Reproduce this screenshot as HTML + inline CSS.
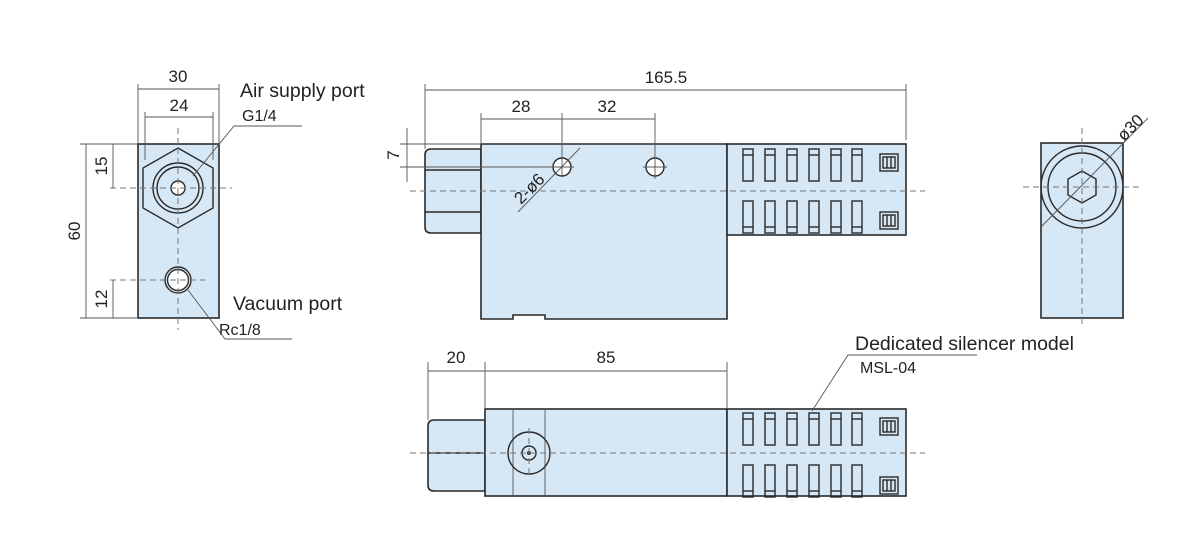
<!DOCTYPE html>
<html><head><meta charset="utf-8"><style>
html,body{margin:0;padding:0;background:#fff;}
svg{display:block;}
text{font-family:"Liberation Sans",Arial,sans-serif;fill:#222;}
.b{fill:#d6e7f5;stroke:#2a2a2a;stroke-width:1.6;}
.w{fill:#fff;stroke:#2a2a2a;stroke-width:1.4;}
.n{fill:none;stroke:#2a2a2a;stroke-width:1.4;}
.d{stroke:#555;stroke-width:0.9;fill:none;}
.c{stroke:#777;stroke-width:1;stroke-dasharray:6 4;fill:none;}
</style></head><body>
<svg width="1200" height="550" viewBox="0 0 1200 550" xmlns="http://www.w3.org/2000/svg">
<defs>
<g id="slotT"><rect x="-5" y="0" width="10" height="32" class="n" fill="none"/><line x1="-5" y1="6" x2="5" y2="6" class="n"/></g>
<g id="slotB"><rect x="-5" y="0" width="10" height="32" class="n" fill="none"/><line x1="-5" y1="26" x2="5" y2="26" class="n"/></g>
<g id="sq"><rect x="0" y="0" width="18" height="17" class="n"/><rect x="3" y="3" width="12" height="11" class="n" stroke-width="1"/><line x1="7" y1="3" x2="7" y2="14" class="n" stroke-width="1"/><line x1="11" y1="3" x2="11" y2="14" class="n" stroke-width="1"/></g>
</defs>

<!-- LEFT VIEW -->
<rect x="138" y="144" width="81" height="174" class="b"/>
<polygon points="178,148 213,168 213,208 178,228 143,208 143,168" class="n"/>
<circle cx="178" cy="188" r="25" class="n"/>
<circle cx="178" cy="188" r="21" class="n"/>
<circle cx="178" cy="188" r="7" class="w"/>
<circle cx="178" cy="280" r="13" class="n"/>
<circle cx="178" cy="280" r="10.5" class="w"/>
<line x1="178" y1="128" x2="178" y2="330" class="c"/>
<line x1="110" y1="188" x2="232" y2="188" class="c"/>
<line x1="110" y1="280" x2="205" y2="280" class="c"/>
<line x1="138" y1="84" x2="138" y2="144" class="d"/><line x1="219" y1="84" x2="219" y2="144" class="d"/>
<line x1="138" y1="89" x2="219" y2="89" class="d"/>
<text x="178" y="82" font-size="17" text-anchor="middle">30</text>
<line x1="145" y1="112" x2="145" y2="160" class="d"/><line x1="213" y1="112" x2="213" y2="160" class="d"/>
<line x1="145" y1="117" x2="213" y2="117" class="d"/>
<text x="179" y="111" font-size="17" text-anchor="middle">24</text>
<line x1="80" y1="144" x2="138" y2="144" class="d"/><line x1="80" y1="318" x2="138" y2="318" class="d"/>
<line x1="86" y1="144" x2="86" y2="318" class="d"/>
<line x1="113" y1="144" x2="113" y2="188" class="d"/>
<line x1="113" y1="280" x2="113" y2="318" class="d"/>
<text transform="translate(80,231) rotate(-90)" font-size="17" text-anchor="middle">60</text>
<text transform="translate(107,166) rotate(-90)" font-size="17" text-anchor="middle">15</text>
<text transform="translate(107,299) rotate(-90)" font-size="17" text-anchor="middle">12</text>
<text x="240" y="97" font-size="19.5">Air supply port</text>
<text x="242" y="121" font-size="16">G1/4</text>
<polyline points="193,176 234,126 302,126" class="d"/>
<text x="233" y="310" font-size="19.5">Vacuum port</text>
<text x="219" y="335" font-size="16">Rc1/8</text>
<polyline points="188,290 225,339 292,339" class="d"/>

<!-- FRONT VIEW -->
<path d="M481,149 L431,149 Q425,149 425,155 L425,227 Q425,233 431,233 L481,233 Z" class="b"/>
<line x1="425" y1="170" x2="481" y2="170" class="n"/>
<line x1="425" y1="212" x2="481" y2="212" class="n"/>
<path d="M481,144 L727,144 L727,319 L545,319 L545,315 L513,315 L513,319 L481,319 Z" class="b"/>
<rect x="727" y="144" width="179" height="91" class="b"/>
<use href="#slotT" x="748" y="149"/><use href="#slotT" x="770" y="149"/><use href="#slotT" x="792" y="149"/><use href="#slotT" x="814" y="149"/><use href="#slotT" x="836" y="149"/><use href="#slotT" x="857" y="149"/>
<use href="#slotB" x="748" y="201"/><use href="#slotB" x="770" y="201"/><use href="#slotB" x="792" y="201"/><use href="#slotB" x="814" y="201"/><use href="#slotB" x="836" y="201"/><use href="#slotB" x="857" y="201"/>
<use href="#sq" x="880" y="154"/><use href="#sq" x="880" y="212"/>
<circle cx="562" cy="167" r="9" class="w"/>
<circle cx="655" cy="167" r="9" class="w"/>
<line x1="410" y1="191" x2="925" y2="191" class="c"/>
<line x1="550" y1="167" x2="574" y2="167" class="d"/><line x1="643" y1="167" x2="667" y2="167" class="d"/>
<line x1="655" y1="155" x2="655" y2="179" class="d"/>
<line x1="518" y1="212" x2="580" y2="148" class="d"/>
<text transform="translate(521,205) rotate(-45)" font-size="17">2-ø6</text>
<line x1="425" y1="84" x2="425" y2="149" class="d"/><line x1="906" y1="84" x2="906" y2="140" class="d"/>
<line x1="425" y1="90" x2="906" y2="90" class="d"/>
<text x="666" y="83" font-size="17" text-anchor="middle">165.5</text>
<line x1="481" y1="113" x2="481" y2="144" class="d"/><line x1="562" y1="113" x2="562" y2="176" class="d"/><line x1="655" y1="113" x2="655" y2="155" class="d"/>
<line x1="481" y1="119" x2="655" y2="119" class="d"/>
<text x="521" y="112" font-size="17" text-anchor="middle">28</text>
<text x="607" y="112" font-size="17" text-anchor="middle">32</text>
<line x1="400" y1="144" x2="481" y2="144" class="d"/><line x1="400" y1="167" x2="560" y2="167" class="d"/>
<line x1="407" y1="128" x2="407" y2="182" class="d"/>
<text transform="translate(399,155) rotate(-90)" font-size="17" text-anchor="middle">7</text>

<!-- BOTTOM VIEW -->
<path d="M485,420 L434,420 Q428,420 428,426 L428,485 Q428,491 434,491 L485,491 Z" class="b"/>
<line x1="428" y1="453" x2="485" y2="453" class="n"/>
<rect x="485" y="409" width="242" height="87" class="b"/>
<rect x="727" y="409" width="179" height="87" class="b"/>
<line x1="513" y1="409" x2="513" y2="496" class="d"/>
<line x1="545" y1="409" x2="545" y2="496" class="d"/>
<circle cx="529" cy="453" r="21" class="n"/>
<circle cx="529" cy="453" r="7" class="n"/>
<circle cx="529" cy="453" r="2" fill="#333"/>
<line x1="529" y1="428" x2="529" y2="478" class="c"/>
<line x1="410" y1="453" x2="925" y2="453" class="c"/>
<use href="#slotT" x="748" y="413"/><use href="#slotT" x="770" y="413"/><use href="#slotT" x="792" y="413"/><use href="#slotT" x="814" y="413"/><use href="#slotT" x="836" y="413"/><use href="#slotT" x="857" y="413"/>
<use href="#slotB" x="748" y="465"/><use href="#slotB" x="770" y="465"/><use href="#slotB" x="792" y="465"/><use href="#slotB" x="814" y="465"/><use href="#slotB" x="836" y="465"/><use href="#slotB" x="857" y="465"/>
<use href="#sq" x="880" y="418"/><use href="#sq" x="880" y="477"/>
<line x1="428" y1="362" x2="428" y2="420" class="d"/><line x1="485" y1="362" x2="485" y2="409" class="d"/><line x1="727" y1="362" x2="727" y2="409" class="d"/>
<line x1="428" y1="371" x2="727" y2="371" class="d"/>
<text x="456" y="363" font-size="17" text-anchor="middle">20</text>
<text x="606" y="363" font-size="17" text-anchor="middle">85</text>
<polyline points="812,411 848,355 977,355" class="d"/>
<text x="855" y="350" font-size="19.5">Dedicated silencer model</text>
<text x="860" y="373" font-size="16">MSL-04</text>

<!-- RIGHT VIEW -->
<rect x="1041" y="143" width="82" height="175" class="b"/>
<circle cx="1082" cy="187" r="41" class="n"/>
<circle cx="1082" cy="187" r="34" class="n"/>
<polygon points="1082,171 1096,179 1096,195 1082,203 1068,195 1068,179" class="n"/>
<line x1="1082" y1="128" x2="1082" y2="328" class="c"/>
<line x1="1023" y1="187" x2="1140" y2="187" class="c"/>
<line x1="1041" y1="227" x2="1148" y2="118" class="d"/>
<text transform="translate(1124,142) rotate(-45)" font-size="17">ø30</text>
</svg>
</body></html>
